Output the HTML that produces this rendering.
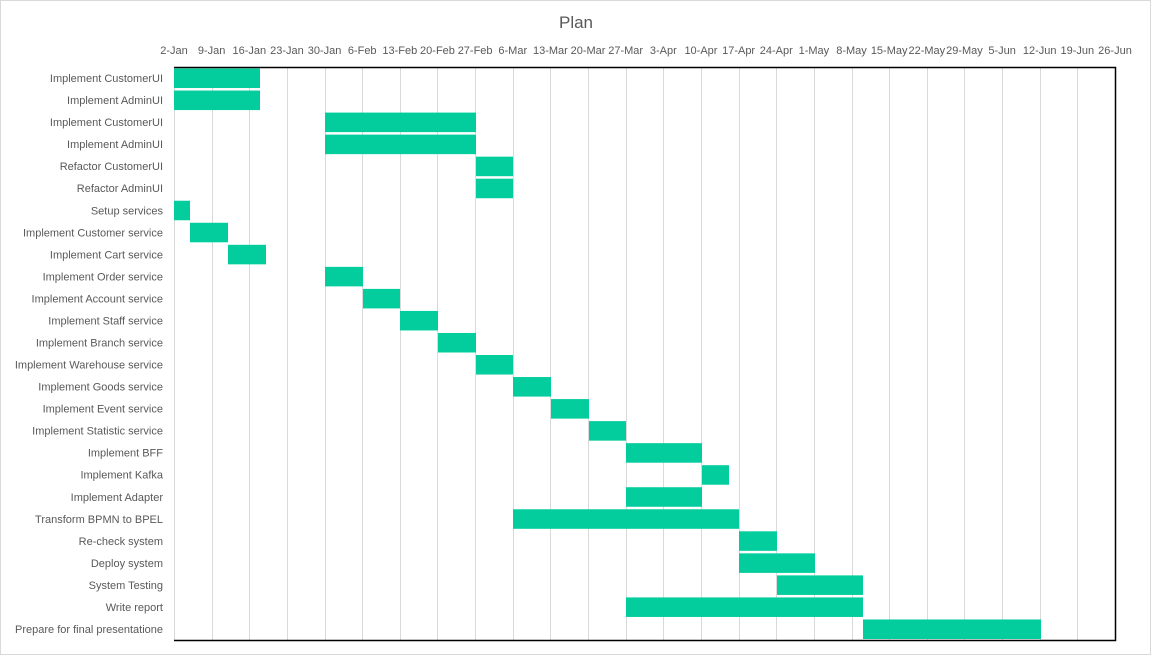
<!DOCTYPE html>
<html><head><meta charset="utf-8"><style>
body{margin:0;background:#fff;}
svg{display:block;font-family:"Liberation Sans",sans-serif;}
</style></head><body>
<svg width="1152" height="656" xmlns="http://www.w3.org/2000/svg">
<rect x="0.5" y="0.5" width="1150" height="654" fill="#fff" stroke="#d9d9d9"/>
<text x="576" y="28" text-anchor="middle" font-size="17" fill="#595959">Plan</text>
<g id="grid" stroke="#d9d9d9" stroke-width="1"></g>
<g id="bars" fill="#03cd9d"></g>
<g id="labels" font-size="11" fill="#595959" text-anchor="end"></g>
<g id="xl" font-size="11" fill="#595959" text-anchor="middle"></g>
<path d="M174 67.5H1115.5V640.5H174" fill="none" stroke="#000" stroke-width="1.5"/>
<script>
var ns="http://www.w3.org/2000/svg";
function el(p,t,a,txt){var e=document.createElementNS(ns,t);for(var k in a)e.setAttribute(k,a[k]);if(txt)e.textContent=txt;document.getElementById(p).appendChild(e);}
var dates=["2-Jan","9-Jan","16-Jan","23-Jan","30-Jan","6-Feb","13-Feb","20-Feb","27-Feb","6-Mar","13-Mar","20-Mar","27-Mar","3-Apr","10-Apr","17-Apr","24-Apr","1-May","8-May","15-May","22-May","29-May","5-Jun","12-Jun","19-Jun","26-Jun"];
var step=941/25;
dates.forEach(function(d,i){var x=174+i*step;el("grid","line",{x1:Math.round(x)+.5,x2:Math.round(x)+.5,y1:67,y2:640});el("xl","text",{x:x,y:54},d);});
var rows=[["Implement CustomerUI",174,260],["Implement AdminUI",174,260],["Implement CustomerUI",325,476],["Implement AdminUI",325,476],["Refactor CustomerUI",476,513],["Refactor AdminUI",476,513],["Setup services",174,190],["Implement Customer service",190,228],["Implement Cart service",228,266],["Implement Order service",325,363],["Implement Account service",363,400],["Implement Staff service",400,438],["Implement Branch service",438,476],["Implement Warehouse service",476,513],["Implement Goods service",513,551],["Implement Event service",551,589],["Implement Statistic service",589,626],["Implement BFF",626,702],["Implement Kafka",702,729],["Implement Adapter",626,702],["Transform BPMN to BPEL",513,739],["Re-check system",739,777],["Deploy system",739,815],["System Testing",777,863],["Write report",626,863],["Prepare for final presentatione",863,1041]];
var rh=573/26;
rows.forEach(function(r,i){var y=67+i*rh;el("bars","rect",{x:r[1],y:y+1.5,width:r[2]-r[1],height:rh-2.5});el("labels","text",{x:163,y:y+rh/2+4},r[0]);});
</script>
</svg>
</body></html>
